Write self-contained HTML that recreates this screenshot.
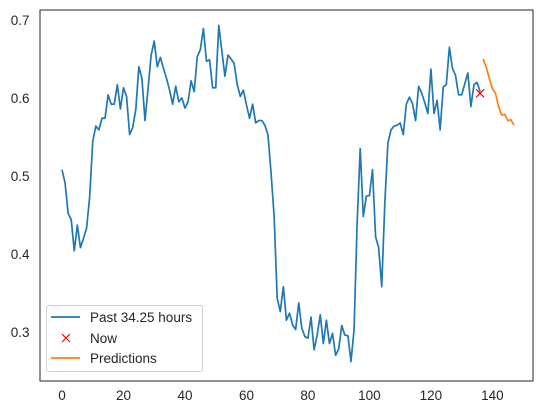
<!DOCTYPE html>
<html><head><meta charset="utf-8"><style>
body{margin:0;background:#fff;}
svg{display:block;font-family:"Liberation Sans",sans-serif;}
</style></head><body>
<svg id="chart" width="545" height="413" viewBox="0 0 545 413" xmlns="http://www.w3.org/2000/svg">
<rect width="545" height="413" fill="#fff"/>
<g id="plot"></g>
</svg>
<script>
const pastValues=[0.508,0.491,0.452,0.444,0.404,0.437,0.408,0.420,0.433,0.473,0.544,0.564,0.559,0.574,0.574,0.604,0.592,0.592,0.617,0.586,0.613,0.602,0.553,0.562,0.585,0.640,0.625,0.571,0.612,0.655,0.673,0.640,0.652,0.638,0.625,0.610,0.592,0.615,0.595,0.600,0.587,0.595,0.622,0.608,0.653,0.662,0.689,0.647,0.649,0.613,0.613,0.693,0.660,0.628,0.655,0.650,0.644,0.617,0.602,0.610,0.591,0.574,0.592,0.568,0.571,0.571,0.565,0.553,0.504,0.448,0.343,0.326,0.358,0.315,0.324,0.309,0.303,0.337,0.305,0.294,0.292,0.319,0.277,0.296,0.322,0.285,0.315,0.285,0.298,0.270,0.278,0.308,0.296,0.295,0.262,0.303,0.440,0.535,0.448,0.474,0.475,0.508,0.422,0.408,0.358,0.465,0.542,0.559,0.564,0.565,0.568,0.553,0.592,0.601,0.593,0.571,0.615,0.606,0.594,0.580,0.637,0.580,0.597,0.559,0.614,0.617,0.665,0.638,0.629,0.604,0.604,0.618,0.632,0.589,0.617,0.620,0.608];
const nowIndex=136;
const nowValue=0.606;
const predStart=137;
const predValues=[0.650,0.639,0.625,0.612,0.606,0.589,0.578,0.579,0.571,0.572,0.565];
const xTicks=[0,20,40,60,80,100,120,140];
const yTicks=[0.3,0.4,0.5,0.6,0.7];
const legendLabels=["Past 34.25 hours","Now","Predictions"];

const L=40,R=533,T=10,B=381;
const X0=-7.15,X1=153.2,Y0=0.237,Y1=0.7128;
const sx=v=>L+(v-X0)/(X1-X0)*(R-L);
const sy=v=>B-(v-Y0)/(Y1-Y0)*(B-T);
const NS="http://www.w3.org/2000/svg";
const g=document.getElementById('plot');
function mk(tag,attrs,parent){const e=document.createElementNS(NS,tag);for(const k in attrs)e.setAttribute(k,attrs[k]);(parent||g).appendChild(e);return e;}

xTicks.forEach(t=>{
  const e=mk('text',{x:sx(t),y:400,'text-anchor':'middle','font-size':'13.5',fill:'#262626'});
  e.textContent=t;
  
  
});
yTicks.forEach(t=>{
  const e=mk('text',{x:29.5,y:sy(t)+5,'text-anchor':'end','font-size':'13.5',fill:'#262626'});
  e.textContent=t.toFixed(1);
  
  
});

const past=mk('polyline',{points:pastValues.map((v,i)=>sx(i)+','+sy(v)).join(' '),fill:'none',stroke:'#1f77b4','stroke-width':'1.7','stroke-linejoin':'round'});



const pred=mk('polyline',{points:predValues.map((v,i)=>sx(predStart+i)+','+sy(v)).join(' '),fill:'none',stroke:'#ff7f0e','stroke-width':'1.7','stroke-linejoin':'round'});



const nx=sx(nowIndex),ny=sy(nowValue);
const now=mk('path',{d:`M${nx-4},${ny-4}L${nx+4},${ny+4}M${nx-4},${ny+4}L${nx+4},${ny-4}`,stroke:'#ff0000','stroke-width':'1.2',fill:'none'});



const frame=mk('rect',{x:L,y:T,width:R-L,height:B-T,fill:'none',stroke:'#262626','stroke-width':'1'});



const leg=mk('g',{});


mk('rect',{x:46.5,y:305.5,width:156,height:66,rx:2,fill:'#fff','fill-opacity':'0.8',stroke:'#d0d0d0'},leg);
const ly=[317,338,358];
legendLabels.forEach((lab,i)=>{
  if(i===1){
    const c=66,y=ly[i];
    mk('path',{d:`M${c-4},${y-4}L${c+4},${y+4}M${c-4},${y+4}L${c+4},${y-4}`,stroke:'#ff0000','stroke-width':'1.2'},leg);
  }else{
    mk('line',{x1:51,x2:80,y1:ly[i],y2:ly[i],stroke:i===0?'#1f77b4':'#ff7f0e','stroke-width':'1.7'},leg);
  }
  const t=mk('text',{x:90,y:ly[i]+5,'font-size':'13.5',fill:'#262626'},leg);
  t.textContent=lab;
  
  
});
</script>
</body></html>
